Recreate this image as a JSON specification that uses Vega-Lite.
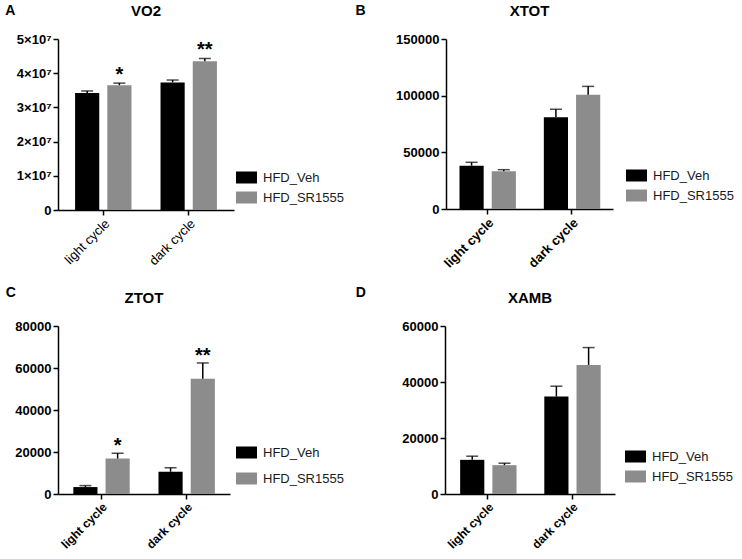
{
  "$schema": "https://vega.github.io/schema/vega-lite/v6.json",
  "padding": {"left": 5, "top": 4, "right": 0, "bottom": 0},
  "background": "white",
  "spacing": 15,
  "datasets": {
    "bars": [
      {"panel": "VO2", "cycle": "light cycle", "group": "HFD_Veh", "mean": 34200000, "upper": 34800000, "sig": ""},
      {"panel": "VO2", "cycle": "light cycle", "group": "HFD_SR1555", "mean": 36500000, "upper": 37100000, "sig": "*"},
      {"panel": "VO2", "cycle": "dark cycle", "group": "HFD_Veh", "mean": 37300000, "upper": 38000000, "sig": ""},
      {"panel": "VO2", "cycle": "dark cycle", "group": "HFD_SR1555", "mean": 43500000, "upper": 44300000, "sig": "**"},
      {"panel": "XTOT", "cycle": "light cycle", "group": "HFD_Veh", "mean": 38200, "upper": 41200, "sig": ""},
      {"panel": "XTOT", "cycle": "light cycle", "group": "HFD_SR1555", "mean": 33200, "upper": 34700, "sig": ""},
      {"panel": "XTOT", "cycle": "dark cycle", "group": "HFD_Veh", "mean": 80900, "upper": 88000, "sig": ""},
      {"panel": "XTOT", "cycle": "dark cycle", "group": "HFD_SR1555", "mean": 100900, "upper": 108200, "sig": ""},
      {"panel": "ZTOT", "cycle": "light cycle", "group": "HFD_Veh", "mean": 3300, "upper": 4000, "sig": ""},
      {"panel": "ZTOT", "cycle": "light cycle", "group": "HFD_SR1555", "mean": 16900, "upper": 19400, "sig": "*"},
      {"panel": "ZTOT", "cycle": "dark cycle", "group": "HFD_Veh", "mean": 10600, "upper": 12500, "sig": ""},
      {"panel": "ZTOT", "cycle": "dark cycle", "group": "HFD_SR1555", "mean": 54900, "upper": 62400, "sig": "**"},
      {"panel": "XAMB", "cycle": "light cycle", "group": "HFD_Veh", "mean": 12200, "upper": 13500, "sig": ""},
      {"panel": "XAMB", "cycle": "light cycle", "group": "HFD_SR1555", "mean": 10300, "upper": 11000, "sig": ""},
      {"panel": "XAMB", "cycle": "dark cycle", "group": "HFD_Veh", "mean": 34800, "upper": 38500, "sig": ""},
      {"panel": "XAMB", "cycle": "dark cycle", "group": "HFD_SR1555", "mean": 46100, "upper": 52300, "sig": ""}
    ]
  },
  "data": {"name": "bars"},
  "config": {
    "font": "Liberation Sans",
    "view": {"stroke": null},
    "axis": {"grid": false, "domainColor": "#000", "domainWidth": 1.5, "tickColor": "#000", "tickWidth": 1.5, "tickSize": 5, "labelColor": "#000", "labelFontWeight": "bold", "labelFontSize": 13, "labelFont": "Liberation Sans", "labelPadding": 2, "labelOverlap": false},
    "axisX": {"labelAngle": -45, "labelFontSize": 13},
    "legend": {"labelFontSize": 13, "labelColor": "#1a1a1a", "labelFont": "Liberation Sans", "symbolSize": 144, "symbolStrokeWidth": 0, "symbolOpacity": 1, "labelOffset": 10, "rowPadding": 6},
    "title": {"fontSize": 15, "fontWeight": "bold", "color": "#000", "font": "Liberation Sans"}
  },
  "resolve": {"scale": {"color": "independent"}, "legend": {"color": "independent"}},
  "vconcat": [
    {
      "spacing": 11,
      "resolve": {"scale": {"color": "independent"}, "legend": {"color": "independent"}},
      "hconcat": [
        {
          "title": {"text": "A", "anchor": "start", "frame": "bounds", "fontSize": 14, "fontWeight": "bold", "offset": -10, "dx": -11, "dy": 4},
          "resolve": {"scale": {"color": "independent"}, "legend": {"color": "independent"}},
          "vconcat": [
            {
              "width": 176, "height": 171,
              "title": {"text": "VO2", "offset": 14},
              "transform": [{"filter": "datum.panel == 'VO2'"}],
              "encoding": {
                "x": {"field": "cycle", "type": "nominal", "sort": ["light cycle", "dark cycle"], "scale": {"paddingInner": 0.34, "paddingOuter": 0.2}, "axis": {"title": null, "labelFontWeight": "normal"}},
                "xOffset": {"field": "group", "type": "nominal", "sort": ["HFD_Veh", "HFD_SR1555"], "scale": {"paddingInner": 0.25, "paddingOuter": 0}}
              },
              "layer": [
                {"mark": {"type": "bar"}, "encoding": {
                  "y": {"field": "mean", "type": "quantitative", "title": null, "scale": {"domain": [0, 50000000], "nice": false}, "axis": {"values": [0, 10000000, 20000000, 30000000, 40000000, 50000000], "labelOverlap": false, "labelExpr": "datum.value == 0 ? '0' : format(round(datum.value / 10000000), 'd') + '×10⁷'"}},
                  "color": {"field": "group", "type": "nominal", "scale": {"domain": ["HFD_Veh", "HFD_SR1555"], "range": ["#000000", "#8c8c8c"]}, "legend": {"title": null, "orient": "none", "legendX": 182, "legendY": 132, "symbolType": "M-1.75,-1H1.75V1H-1.75Z"}}
                }},
                {"mark": {"type": "rule", "strokeWidth": 1.5, "color": "#000"}, "encoding": {
                  "y": {"field": "mean", "type": "quantitative", "title": null, "axis": {"values": [0, 10000000, 20000000, 30000000, 40000000, 50000000], "labelOverlap": false, "labelExpr": "datum.value == 0 ? '0' : format(round(datum.value / 10000000), 'd') + '×10⁷'"}},
                  "y2": {"field": "upper"}}},
                {"mark": {"type": "tick", "size": 12, "thickness": 1.5, "color": "#000"}, "encoding": {
                  "y": {"field": "upper", "type": "quantitative", "title": null, "axis": {"values": [0, 10000000, 20000000, 30000000, 40000000, 50000000], "labelOverlap": false, "labelExpr": "datum.value == 0 ? '0' : format(round(datum.value / 10000000), 'd') + '×10⁷'"}}}},
                {"transform": [{"filter": "datum.sig != ''"}], "mark": {"type": "text", "fontSize": 20, "fontWeight": "bold", "baseline": "alphabetic", "dy": -2, "color": "#000"}, "encoding": {
                  "y": {"field": "upper", "type": "quantitative", "title": null, "axis": {"values": [0, 10000000, 20000000, 30000000, 40000000, 50000000], "labelOverlap": false, "labelExpr": "datum.value == 0 ? '0' : format(round(datum.value / 10000000), 'd') + '×10⁷'"}},
                  "text": {"field": "sig"}}}
              ]
            }
          ]
        },
        {
          "title": {"text": "B", "anchor": "start", "frame": "bounds", "fontSize": 14, "fontWeight": "bold", "offset": -10, "dx": -40, "dy": 4},
          "resolve": {"scale": {"color": "independent"}, "legend": {"color": "independent"}},
          "vconcat": [
            {
              "width": 167, "height": 170,
              "title": {"text": "XTOT", "offset": 14},
              "transform": [{"filter": "datum.panel == 'XTOT'"}],
              "encoding": {
                "x": {"field": "cycle", "type": "nominal", "sort": ["light cycle", "dark cycle"], "scale": {"paddingInner": 0.34, "paddingOuter": 0.16}, "axis": {"title": null}},
                "xOffset": {"field": "group", "type": "nominal", "sort": ["HFD_Veh", "HFD_SR1555"], "scale": {"paddingInner": 0.2, "paddingOuter": 0}}
              },
              "layer": [
                {"mark": {"type": "bar"}, "encoding": {
                  "y": {"field": "mean", "type": "quantitative", "title": null, "scale": {"domain": [0, 150000], "nice": false}, "axis": {"values": [0, 50000, 100000, 150000], "format": "d"}},
                  "color": {"field": "group", "type": "nominal", "scale": {"domain": ["HFD_Veh", "HFD_SR1555"], "range": ["#000000", "#8c8c8c"]}, "legend": {"title": null, "orient": "none", "legendX": 184, "legendY": 130, "symbolType": "M-1.75,-1H1.75V1H-1.75Z"}}
                }},
                {"mark": {"type": "rule", "strokeWidth": 1.5, "color": "#000"}, "encoding": {"y": {"field": "mean", "type": "quantitative", "title": null, "axis": {"values": [0, 50000, 100000, 150000], "format": "d"}}, "y2": {"field": "upper"}}},
                {"mark": {"type": "tick", "size": 12, "thickness": 1.5, "color": "#000"}, "encoding": {"y": {"field": "upper", "type": "quantitative", "title": null, "axis": {"values": [0, 50000, 100000, 150000], "format": "d"}}}}
              ]
            }
          ]
        }
      ]
    },
    {
      "spacing": 11,
      "resolve": {"scale": {"color": "independent"}, "legend": {"color": "independent"}},
      "hconcat": [
        {
          "title": {"text": "C", "anchor": "start", "frame": "bounds", "fontSize": 14, "fontWeight": "bold", "offset": -5, "dx": -9, "dy": 4},
          "resolve": {"scale": {"color": "independent"}, "legend": {"color": "independent"}},
          "vconcat": [
            {
              "width": 172, "height": 168,
              "title": {"text": "ZTOT", "offset": 14},
              "transform": [{"filter": "datum.panel == 'ZTOT'"}],
              "encoding": {
                "x": {"field": "cycle", "type": "nominal", "sort": ["light cycle", "dark cycle"], "scale": {"paddingInner": 0.34, "paddingOuter": 0.18}, "axis": {"title": null, "labelFontSize": 12}},
                "xOffset": {"field": "group", "type": "nominal", "sort": ["HFD_Veh", "HFD_SR1555"], "scale": {"paddingInner": 0.25, "paddingOuter": 0}}
              },
              "layer": [
                {"mark": {"type": "bar"}, "encoding": {
                  "y": {"field": "mean", "type": "quantitative", "title": null, "scale": {"domain": [0, 80000], "nice": false}, "axis": {"values": [0, 20000, 40000, 60000, 80000], "format": "d"}},
                  "color": {"field": "group", "type": "nominal", "scale": {"domain": ["HFD_Veh", "HFD_SR1555"], "range": ["#000000", "#8c8c8c"]}, "legend": {"title": null, "orient": "none", "legendX": 182, "legendY": 120, "symbolType": "M-1.75,-1H1.75V1H-1.75Z", "rowPadding": 12}}
                }},
                {"mark": {"type": "rule", "strokeWidth": 1.5, "color": "#000"}, "encoding": {"y": {"field": "mean", "type": "quantitative", "title": null, "axis": {"values": [0, 20000, 40000, 60000, 80000], "format": "d"}}, "y2": {"field": "upper"}}},
                {"mark": {"type": "tick", "size": 12, "thickness": 1.5, "color": "#000"}, "encoding": {"y": {"field": "upper", "type": "quantitative", "title": null, "axis": {"values": [0, 20000, 40000, 60000, 80000], "format": "d"}}}},
                {"transform": [{"filter": "datum.sig != ''"}], "mark": {"type": "text", "fontSize": 20, "fontWeight": "bold", "baseline": "alphabetic", "dy": -1, "color": "#000"}, "encoding": {"y": {"field": "upper", "type": "quantitative", "title": null, "axis": {"values": [0, 20000, 40000, 60000, 80000], "format": "d"}}, "text": {"field": "sig"}}}
              ]
            }
          ]
        },
        {
          "title": {"text": "D", "anchor": "start", "frame": "bounds", "fontSize": 14, "fontWeight": "bold", "offset": -5, "dx": -46, "dy": 4},
          "resolve": {"scale": {"color": "independent"}, "legend": {"color": "independent"}},
          "vconcat": [
            {
              "width": 170, "height": 168,
              "title": {"text": "XAMB", "offset": 14},
              "transform": [{"filter": "datum.panel == 'XAMB'"}],
              "encoding": {
                "x": {"field": "cycle", "type": "nominal", "sort": ["light cycle", "dark cycle"], "scale": {"paddingInner": 0.34, "paddingOuter": 0.18}, "axis": {"title": null, "labelFontSize": 12}},
                "xOffset": {"field": "group", "type": "nominal", "sort": ["HFD_Veh", "HFD_SR1555"], "scale": {"paddingInner": 0.12, "paddingOuter": 0}}
              },
              "layer": [
                {"mark": {"type": "bar"}, "encoding": {
                  "y": {"field": "mean", "type": "quantitative", "title": null, "scale": {"domain": [0, 60000], "nice": false}, "axis": {"values": [0, 20000, 40000, 60000], "format": "d"}},
                  "color": {"field": "group", "type": "nominal", "scale": {"domain": ["HFD_Veh", "HFD_SR1555"], "range": ["#000000", "#8c8c8c"]}, "legend": {"title": null, "orient": "none", "legendX": 184, "legendY": 124, "symbolType": "M-1.75,-1H1.75V1H-1.75Z"}}
                }},
                {"mark": {"type": "rule", "strokeWidth": 1.5, "color": "#000"}, "encoding": {"y": {"field": "mean", "type": "quantitative", "title": null, "axis": {"values": [0, 20000, 40000, 60000], "format": "d"}}, "y2": {"field": "upper"}}},
                {"mark": {"type": "tick", "size": 12, "thickness": 1.5, "color": "#000"}, "encoding": {"y": {"field": "upper", "type": "quantitative", "title": null, "axis": {"values": [0, 20000, 40000, 60000], "format": "d"}}}}
              ]
            }
          ]
        }
      ]
    }
  ]
}
